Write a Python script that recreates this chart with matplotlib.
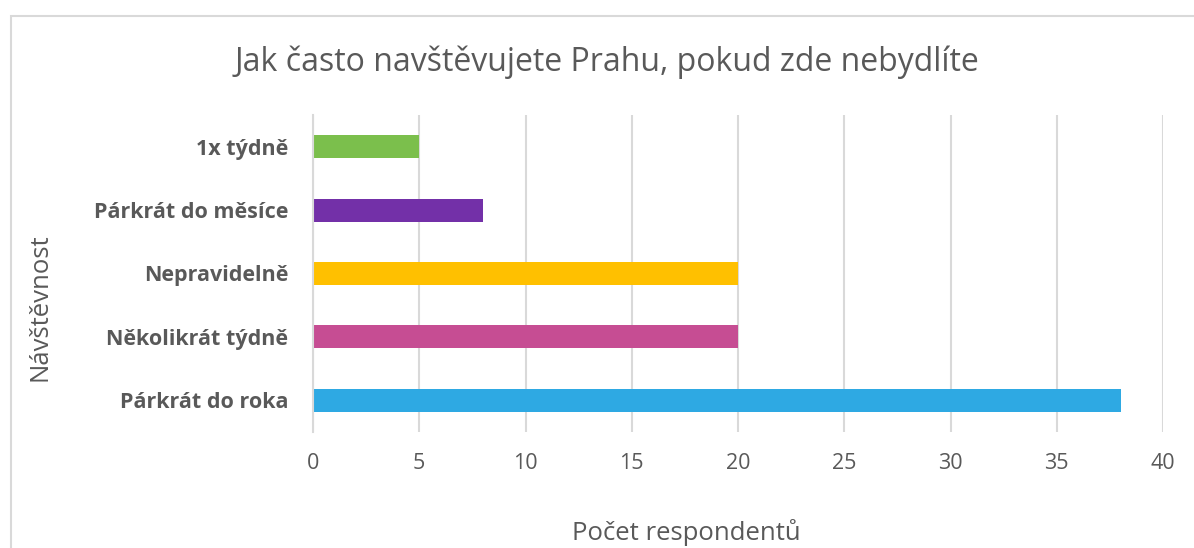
import matplotlib
matplotlib.use("Agg")
import matplotlib.pyplot as plt
from matplotlib.patches import Rectangle

plt.rcParams['font.family'] = ['Open Sans', 'DejaVu Sans']

categories = ["Párkrát do roka", "Několikrát týdně", "Nepravidelně", "Párkrát do měsíce", "1x týdně"]
values = [38, 20, 20, 8, 5]
colors = ["#2EA9E3", "#C64D93", "#FFC000", "#7330A8", "#7BBF4C"]
xticks = [0, 5, 10, 15, 20, 25, 30, 35, 40]

W, H = 1194, 548
fig = plt.figure(figsize=(W / 100, H / 100), dpi=100)

# plot area in pixels
left, right, top, bottom = 313, 1163, 115, 432
ax = fig.add_axes([left / W, 1 - bottom / H, (right - left) / W, (bottom - top) / H])

txt = "#595959"
ax.barh(range(len(categories)), values, height=0.36, color=colors, zorder=3)
ax.set_xlim(0, 40)
ax.set_ylim(-0.5, len(categories) - 0.5)
ax.set_xticks(xticks)
ax.set_xticklabels([str(t) for t in xticks], fontsize=15.5, color=txt)
ax.set_yticks(range(len(categories)))
ax.set_yticklabels(categories, fontsize=15.5, fontweight='bold', color=txt)
ax.tick_params(axis='both', length=0)
ax.tick_params(axis='x', pad=15)
ax.tick_params(axis='y', pad=18)
ax.grid(axis='x', color="#d9d9d9", lw=1.5, zorder=0)
for s in ['top', 'right', 'bottom']:
    ax.spines[s].set_visible(False)
ax.spines['left'].set_color("#d9d9d9")
ax.spines['left'].set_linewidth(1.5)
ax.spines['left'].set_zorder(4)

fig.text(607 / W, 1 - 62 / H, "Jak často navštěvujete Prahu, pokud zde nebydlíte",
         ha='center', va='center', fontsize=23, color=txt)
fig.text(40 / W, 1 - 307 / H, "Návštěvnost", rotation=90,
         ha='center', va='center', fontsize=18.5, color=txt)
fig.text(686 / W, 1 - 533 / H, "Počet respondentů",
         ha='center', va='center', fontsize=18.5, color=txt)

# chart frame
fig.patches.append(Rectangle((11 / W, -0.1), 1.2, 1 - 16 / H + 0.1, transform=fig.transFigure,
                             fill=False, edgecolor="#d9d9d9", lw=1.5))

fig.savefig("out.png", dpi=100)
